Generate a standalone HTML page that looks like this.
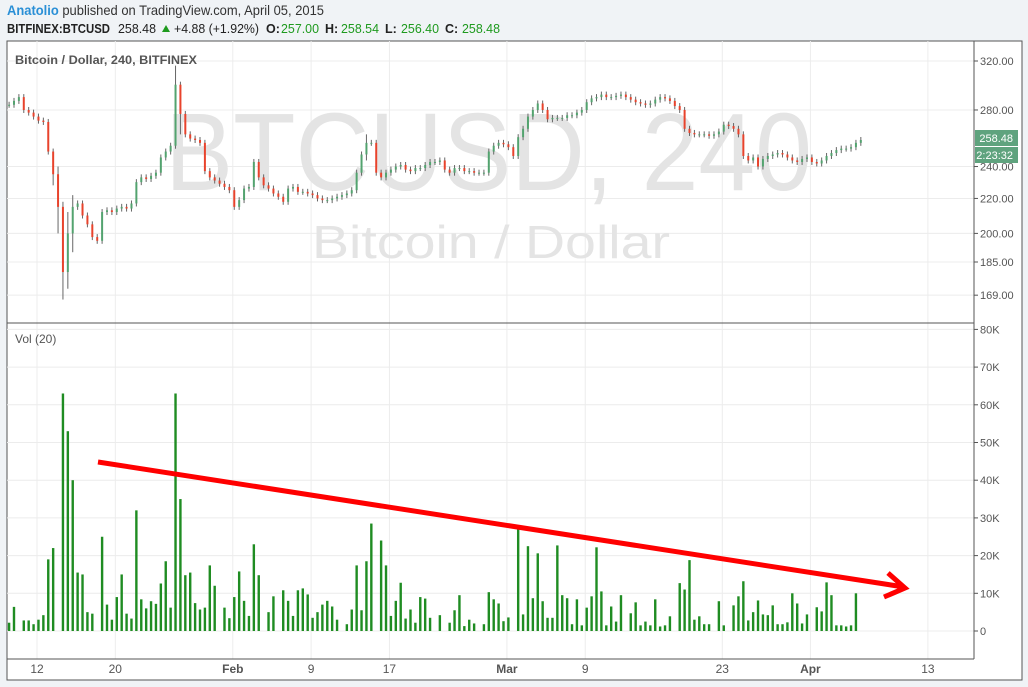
<!DOCTYPE html>
<html><head><meta charset="utf-8"><style>
html,body{margin:0;padding:0;background:#f0f3f6;}
svg{display:block;font-family:"Liberation Sans",sans-serif;}
</style></head><body>
<svg id="chart" width="1028" height="687" viewBox="0 0 1028 687" xmlns="http://www.w3.org/2000/svg">
<rect x="0" y="0" width="1028" height="687" fill="#f0f3f6"/>
<g>
<text x="7" y="15" font-size="14" fill="#333" textLength="317" lengthAdjust="spacingAndGlyphs"><tspan fill="#2a8fd6" font-weight="bold">Anatolio</tspan> published on TradingView.com, April 05, 2015</text>
<g font-size="12.5" fill="#222">
<text x="7" y="33" font-weight="bold" textLength="103" lengthAdjust="spacingAndGlyphs">BITFINEX:BTCUSD</text>
<text x="118" y="33" textLength="38" lengthAdjust="spacingAndGlyphs">258.48</text>
<polygon points="162,32 170,32 166,25" fill="#1e9a1e"/>
<text x="174" y="33" textLength="85" lengthAdjust="spacingAndGlyphs">+4.88 (+1.92%)</text>
<text x="266" y="33" font-weight="bold">O:</text><text x="281" y="33" fill="#1e9a1e" textLength="38" lengthAdjust="spacingAndGlyphs">257.00</text>
<text x="325" y="33" font-weight="bold">H:</text><text x="341" y="33" fill="#1e9a1e" textLength="38" lengthAdjust="spacingAndGlyphs">258.54</text>
<text x="385" y="33" font-weight="bold">L:</text><text x="401" y="33" fill="#1e9a1e" textLength="38" lengthAdjust="spacingAndGlyphs">256.40</text>
<text x="445" y="33" font-weight="bold">C:</text><text x="462" y="33" fill="#1e9a1e" textLength="38" lengthAdjust="spacingAndGlyphs">258.48</text>
</g>
</g>
<rect x="7" y="41" width="1015" height="639" fill="#fff" stroke="#555" stroke-width="1"/>
<g id="grid"></g>
<g fill="#e4e4e4">
<text x="165" y="190" font-size="110" textLength="647" lengthAdjust="spacingAndGlyphs">BTCUSD, 240</text>
<text x="312" y="258" font-size="46" textLength="358" lengthAdjust="spacingAndGlyphs">Bitcoin / Dollar</text>
</g>
<g id="candles"></g>
<g id="vols"></g>
<g stroke="#ff0000" stroke-width="5" fill="none" stroke-linecap="butt">
<line x1="98" y1="462" x2="904" y2="587"/>
<polyline points="888,573 905,588 884,597"/>
</g>
<line x1="7" y1="323" x2="974" y2="323" stroke="#555"/>
<line x1="974" y1="41" x2="974" y2="659" stroke="#555"/>
<line x1="7" y1="659" x2="974" y2="659" stroke="#555"/>
<g id="axes" font-size="11" fill="#555"></g>
<text x="15" y="64" font-size="12" fill="#555" font-weight="bold" textLength="182" lengthAdjust="spacingAndGlyphs">Bitcoin / Dollar, 240, BITFINEX</text>
<text x="15" y="343" font-size="12" fill="#555">Vol (20)</text>
<g>
<rect x="975" y="130" width="43" height="16" fill="#5fa37e"/>
<text x="1013" y="142" font-size="11" fill="#fff" text-anchor="end">258.48</text>
<rect x="975" y="147" width="43" height="16" fill="#5fa37e"/>
<text x="1013" y="159" font-size="11" fill="#fff" text-anchor="end">2:23:32</text>
</g>
</svg>
<script>
const priceTicks=[320,280,240,220,200,185,169];
const volTicks=[0,10,20,30,40,50,60,70,80];
const dateLabels=["12","20","Feb","9","17","Mar","9","23","Apr","13"];
const dateDays=[0,8,20,28,36,48,56,70,79,91];
const closes=[284,287,290,280,278,275,272,271,250,235,
215,180,200,215,217,210,205,198,196,212,
213,212,214,215,214,217,230,233,232,234,
236,246,250,254,300,277,262,259,258,256,
237,233,231,229,227,225,215,219,226,227,
243,233,228,226,223,221,218,226,227,224,
224,223,222,220,219,219,220,221,222,223,
225,236,248,256,256,236,233,236,238,240,
241,238,237,239,239,241,243,243,244,238,
236,239,239,237,237,236,236,236,250,254,
256,255,253,247,260,266,275,280,285,280,
273,274,274,274,276,276,278,280,286,289,
290,292,290,290,291,292,290,288,286,285,
284,285,288,290,289,287,283,280,266,263,
262,262,262,261,262,264,269,268,266,262,
247,244,246,240,245,247,248,249,248,246,
244,243,245,246,243,242,244,247,249,251,
252,252,253,256,258];
const spikeIdx=[9,10,11,12,13,34,35,73];
const spikeHigh=[252,240,218,212,222,316,290,262];
const spikeLow=[228,200,167,172,190,252,262,244];
const volumes=[2.2,6.4,0,2.8,2.8,1.8,3,4.2,19,22,
0,63,53,40,15.5,15,5,4.6,0,25,
7,3,9,15,4.6,3.3,32,8.4,6,7.9,
7.2,12.6,18.5,6.2,63,35,14.8,15.5,7.4,5.7,
6.2,17.4,12,0,6.2,3.4,9,15.8,8,4,
23,14.8,0,5,9.2,0,10.8,8,4,10.8,
11.3,9.7,3.5,5,7,8,6.5,3,0,1.8,
5.7,17.4,5.5,18.5,28.5,0,24,17.4,4,8,
12.8,3.3,5.7,2.2,9,8.6,3.5,0,4.2,0,
2.2,5.5,9.5,1.3,3,2,0,1.8,10.3,8.4,
7.3,2.6,3.6,0,27,4.4,22.5,8.7,20.6,7.9,
3.5,3.5,22.7,9.5,8.7,1.8,8.4,1.5,6.2,9.2,
22.2,10.5,1.5,6.5,2.5,9.5,0,4.7,7.6,1.5,
2.5,1.5,8.4,1.2,1.5,3.9,0,12.7,11,18.8,
3,3.9,1.8,1.8,0,7.9,1.5,0,6.8,9.2,
13.2,2.8,5,8.1,4.4,4.2,6.8,1.8,1.8,2.3,
10,7.3,2,4.4,0,6.3,5.2,12.9,9.5,1.5,
1.5,1.2,1.5,10];
const NS="http://www.w3.org/2000/svg";
const L320=Math.log(320);
function yP(p){return 61+(L320-Math.log(p))*366.8;}
function yV(v){return 631-v*3.77;}
function xD(d){return 37+d*9.79;}
function xI(i){return xD(-2.85+i*0.5);}
function mk(tag,attrs,parent){const e=document.createElementNS(NS,tag);for(const k in attrs)e.setAttribute(k,attrs[k]);parent.appendChild(e);return e;}
const grid=document.getElementById('grid'),axes=document.getElementById('axes');
priceTicks.forEach(p=>{
 const y=yP(p);
 const g=mk('line',{x1:7,x2:974,y1:y,y2:y,stroke:'#ececec'},grid);
 
 
 mk('line',{x1:974,x2:978,y1:y,y2:y,stroke:'#555'},axes);
 const t=mk('text',{x:980,y:y+4},axes);t.textContent=p.toFixed(2);
 
 
});
volTicks.forEach(v=>{
 const y=yV(v);
 const g=mk('line',{x1:7,x2:974,y1:y,y2:y,stroke:'#ececec'},grid);
 
 
 mk('line',{x1:974,x2:978,y1:y,y2:y,stroke:'#555'},axes);
 const t=mk('text',{x:980,y:y+4},axes);t.textContent=v===0?'0':v+'K';
 
 
});
dateLabels.forEach((lab,k)=>{
 const x=xD(dateDays[k]);
 const g=mk('line',{x1:x,x2:x,y1:41,y2:659,stroke:'#ececec'},grid);
 
 
 const t=mk('text',{x:x,y:673,'text-anchor':'middle','font-size':12},axes);
 if(isNaN(+lab))t.setAttribute('font-weight','bold');
 t.textContent=lab;
 
 
});
const cg=document.getElementById('candles');
closes.forEach((c,i)=>{
 const o=i>0?closes[i-1]:c;
 const x=xI(i);
 let hi=Math.max(o,c),lo=Math.min(o,c);
 let yh=yP(hi)-3,yl=yP(lo)+3;
 const s=spikeIdx.indexOf(i);
 if(s>=0){yh=Math.min(yh,yP(spikeHigh[s]));yl=Math.max(yl,yP(spikeLow[s]));}
 const w=mk('line',{x1:x,x2:x,y1:yh,y2:yl,stroke:'#666','stroke-width':1},cg);
 
 
 const yt=yP(hi),yb=yP(lo);
 const b=mk('rect',{x:x-1,y:yt,width:2,height:Math.max(1,yb-yt),fill:c>=o?'#53a36f':'#e8432c'},cg);
 
 
});
const vg=document.getElementById('vols');
volumes.forEach((v,i)=>{
 if(v<=0)return;
 const x=xI(i);
 const r=mk('rect',{x:x-1.2,y:yV(v),width:2.4,height:631-yV(v),fill:'#1f8c22'},vg);
 
 
});
</script>
</body></html>
